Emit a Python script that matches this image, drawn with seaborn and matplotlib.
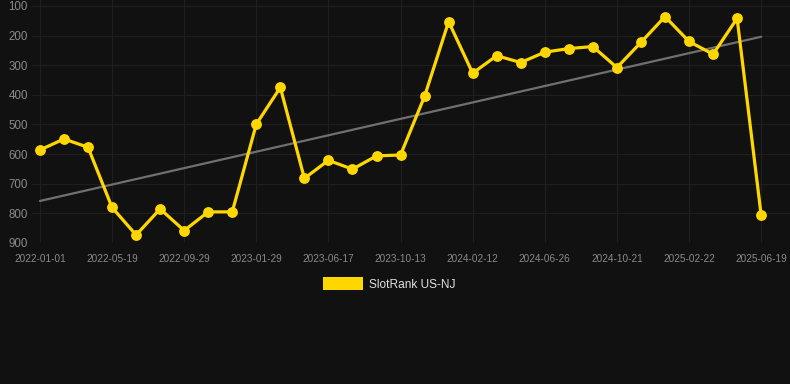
import numpy as np
import pandas as pd
import matplotlib
matplotlib.use("Agg")
import matplotlib.pyplot as plt
import seaborn as sns
from matplotlib.patches import Patch

# ---- data ----
tick_labels = ["2022-01-01", "2022-05-19", "2022-09-29", "2023-01-29", "2023-06-17",
               "2023-10-13", "2024-02-12", "2024-06-26", "2024-10-21", "2025-02-22",
               "2025-06-19"]
rank_values = [586, 549, 577, 780, 873, 785, 858, 795, 795, 499, 375, 682, 621, 651,
               606, 603, 405, 153, 327, 268, 291, 256, 244, 237, 308, 223, 136, 220,
               263, 142, 806]
series_name = "SlotRank US-NJ"

positions = list(range(len(rank_values)))
df = pd.DataFrame({"pos": positions, "rank": rank_values})

sns.set_theme(style="dark")
plt.rcParams['font.family'] = ['Liberation Sans', 'DejaVu Sans']

BG = "#111111"
fig = plt.figure(figsize=(7.9, 3.84), dpi=100, facecolor=BG)
ax = fig.add_axes([32/790, 141/384, 758/790, 243/384])
ax.set_facecolor(BG)

# trend line (linear regression)
sns.regplot(data=df, x="pos", y="rank", scatter=False, ci=None, ax=ax,
            line_kws=dict(color="#707070", lw=1.6, zorder=2))

sns.lineplot(data=df, x="pos", y="rank", ax=ax, color="#FFD700", lw=2.3,
             marker="o", markersize=7.8, markeredgewidth=0, zorder=3)

ax.set_xlim(-0.33, 31.2)
ax.set_ylim(900, 80)
ax.set_yticks([100, 200, 300, 400, 500, 600, 700, 800, 900])
ax.set_xticks(positions[::3])
ax.set_xticklabels(tick_labels)
ax.set_xlabel("")
ax.set_ylabel("")

ax.grid(True, color="#1f1f1f", lw=0.8)
for s in ax.spines.values():
    s.set_visible(False)
ax.tick_params(axis="y", colors="#8a8a8a", labelsize=8.3, length=0, pad=3)
ax.tick_params(axis="x", colors="#262626", labelcolor="#8a8a8a", labelsize=7.2,
               length=5, width=0.8, pad=3, direction="out")

handle = Patch(facecolor="#FFD700", edgecolor="none", label=series_name)
fig.legend(handles=[handle], loc="center", bbox_to_anchor=(389/790, 1 - 284/384),
           frameon=False, fontsize=8.6, labelcolor="#e0e0e0",
           handlelength=3.4, handleheight=1.2, handletextpad=0.45)

fig.savefig("out.png", dpi=100, facecolor=BG)
